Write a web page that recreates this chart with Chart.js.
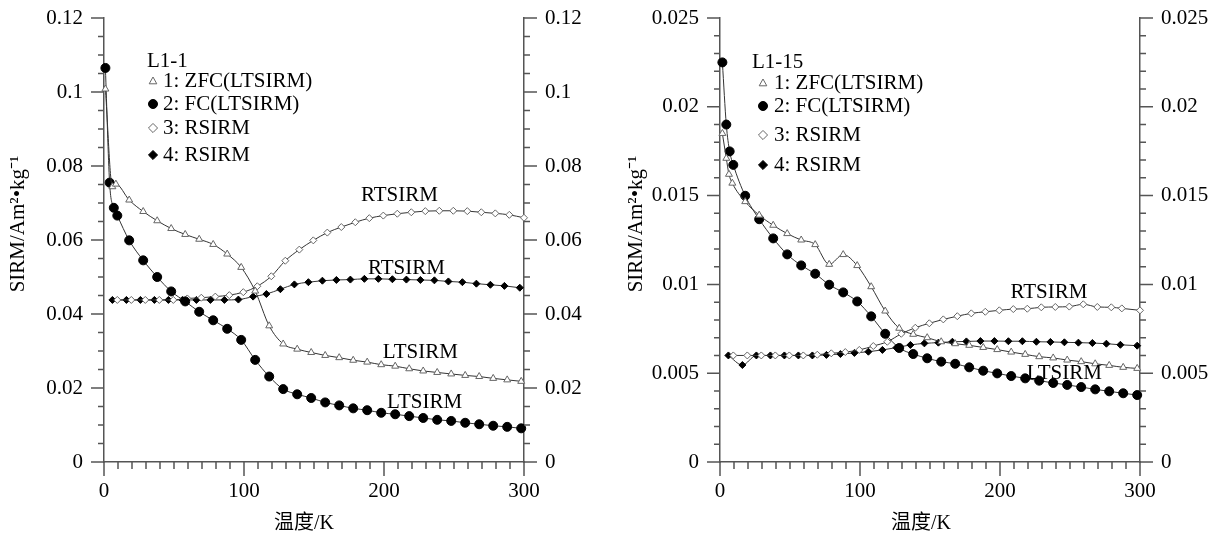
<!DOCTYPE html>
<html>
<head>
<meta charset="utf-8">
<script src="https://cdn.jsdelivr.net/npm/chart.js@4.4.1/dist/chart.umd.min.js"></script>
<style>
  body { margin: 0; background: #fff; }
  #wrap { position: relative; width: 1218px; height: 539px; }
  canvas { position: absolute; top: 0; }
</style>
</head>
<body>
<div id="wrap">
  <canvas id="chartL" width="609" height="539" style="left:0;width:609px;height:539px"></canvas>
  <canvas id="chartR" width="609" height="539" style="left:609px;width:609px;height:539px"></canvas>
</div>
<script>
const seriesNames = ["1: ZFC(LTSIRM)", "2: FC(LTSIRM)", "3: RSIRM", "4: RSIRM"];

// sample L1-1
const l1ZfcT = [1, 6, 8.5, 18, 28, 38, 48, 58, 68, 78, 88, 98, 108, 118, 128, 138, 148, 158, 168, 178, 188, 198, 208, 218, 228, 238, 248, 258, 268, 278, 288, 298];
const l1ZfcV = [0.1008, 0.0744, 0.0751, 0.0708, 0.0677, 0.0652, 0.0631, 0.0615, 0.0602, 0.0588, 0.0562, 0.0526, 0.0462, 0.0368, 0.0319, 0.0305, 0.0296, 0.0288, 0.0282, 0.0275, 0.0270, 0.0263, 0.0259, 0.0252, 0.0246, 0.0242, 0.0238, 0.0234, 0.0231, 0.0226, 0.0222, 0.0218];
const l1FcT = [1, 4, 7, 9.5, 18, 28, 38, 48, 58, 68, 78, 88, 98, 108, 118, 128, 138, 148, 158, 168, 178, 188, 198, 208, 218, 228, 238, 248, 258, 268, 278, 288, 298];
const l1FcV = [0.1065, 0.0755, 0.0687, 0.0666, 0.0599, 0.0545, 0.0500, 0.0461, 0.0434, 0.0406, 0.0383, 0.0360, 0.0330, 0.0276, 0.0231, 0.0197, 0.0183, 0.0173, 0.0161, 0.0153, 0.0145, 0.0140, 0.0133, 0.0129, 0.0124, 0.0119, 0.0114, 0.0111, 0.0106, 0.0102, 0.0098, 0.0095, 0.0091];
const l1RtOpenT = [9.5, 19.5, 29.5, 39.5, 49.5, 59.5, 69.5, 79.5, 89.5, 99.5, 109.5, 119.5, 129.5, 139.5, 149.5, 159.5, 169.5, 179.5, 189.5, 199.5, 209.5, 219.5, 229.5, 239.5, 249.5, 259.5, 269.5, 279.5, 289.5, 300];
const l1RtOpenV = [0.0438, 0.0438, 0.0438, 0.0438, 0.0438, 0.0442, 0.0444, 0.0447, 0.0451, 0.0459, 0.0475, 0.0502, 0.0544, 0.0574, 0.0599, 0.0620, 0.0635, 0.0648, 0.0659, 0.0666, 0.0671, 0.0675, 0.0678, 0.0679, 0.0679, 0.0678, 0.0675, 0.0672, 0.0668, 0.0660];
const l1RtFillT = [6, 16, 26, 36, 46, 56, 66, 76, 86, 96, 106.5, 116, 126, 136, 146, 156, 166, 176, 186, 196, 206, 216, 226, 236, 246, 256, 266, 276, 286, 297];
const l1RtFillV = [0.0438, 0.0438, 0.0438, 0.0438, 0.0438, 0.0438, 0.0438, 0.0438, 0.0438, 0.0439, 0.0447, 0.0454, 0.0467, 0.0480, 0.0486, 0.0490, 0.0492, 0.0493, 0.0495, 0.0495, 0.0494, 0.0493, 0.0492, 0.0491, 0.0488, 0.0486, 0.0482, 0.0479, 0.0476, 0.0471];

// sample L1-15
const l15ZfcT = [1.7, 4.5, 6.4, 8.8, 18, 28, 38, 48, 58, 68, 78, 88, 98, 108, 118, 128, 138, 148, 158, 168, 178, 188, 198, 208, 218, 228, 238, 248, 258, 268, 278, 288, 298];
const l15ZfcV = [0.0185, 0.0171, 0.0162, 0.0157, 0.01466, 0.0139, 0.01333, 0.01286, 0.0125, 0.01224, 0.01113, 0.01168, 0.01106, 0.00987, 0.0085, 0.00753, 0.00719, 0.0070, 0.00677, 0.00666, 0.00657, 0.00645, 0.00633, 0.00619, 0.00606, 0.00593, 0.00586, 0.00574, 0.00565, 0.00553, 0.00544, 0.00533, 0.00527];
const l15FcT = [1.7, 4.5, 6.9, 9.5, 18, 28, 38, 48, 58, 68, 78, 88, 98, 108, 118, 128, 138, 148, 158, 168, 178, 188, 198, 208, 218, 228, 238, 248, 258, 268, 278, 288, 298];
const l15FcV = [0.0225, 0.0190, 0.01749, 0.01673, 0.01499, 0.01367, 0.01259, 0.01169, 0.01107, 0.0106, 0.00998, 0.00955, 0.00904, 0.0082, 0.00722, 0.00642, 0.00608, 0.00584, 0.00565, 0.00553, 0.00533, 0.00514, 0.00499, 0.00484, 0.00471, 0.00458, 0.00445, 0.00434, 0.00422, 0.00409, 0.00398, 0.00387, 0.00377];
const l15RtOpenT = [9.5, 19.5, 29.5, 39.5, 49.5, 59.5, 69.5, 79.5, 89.5, 99.5, 109.5, 119.5, 129.5, 139.5, 149.5, 159.5, 169.5, 179.5, 189.5, 199.5, 209.5, 219.5, 229.5, 239.5, 249.5, 259.5, 269.5, 279.5, 287, 300];
const l15RtOpenV = [0.0060, 0.0060, 0.0060, 0.0060, 0.0060, 0.0060, 0.00604, 0.00612, 0.00619, 0.00631, 0.00653, 0.00677, 0.00722, 0.00756, 0.00781, 0.00803, 0.00821, 0.00837, 0.00846, 0.00854, 0.00861, 0.00863, 0.00871, 0.00873, 0.00875, 0.00888, 0.00873, 0.00871, 0.00865, 0.00854];
const l15RtFillT = [6, 16, 26, 36, 46, 56, 66, 76, 86, 96, 106, 116, 126, 136, 146, 156, 166, 176, 186, 196, 206, 216, 226, 236, 246, 256, 266, 276, 286, 298];
const l15RtFillV = [0.0060, 0.00546, 0.0060, 0.0060, 0.0060, 0.0060, 0.0060, 0.00603, 0.00608, 0.00614, 0.00621, 0.00631, 0.00644, 0.00659, 0.00668, 0.00672, 0.00677, 0.00679, 0.00681, 0.00681, 0.0068, 0.0068, 0.00677, 0.00676, 0.00674, 0.00672, 0.0067, 0.00666, 0.0066, 0.00655];

const serif = "'Liberation Serif', 'Times New Roman', serif";
const axisColor = "#555";
const tickSize = 21;

const pts = (t, v) => t.map((x, i) => ({ x: x, y: v[i] }));

// the four curve styles, in legend order
const markStyles = [
  { pointStyle: "triangle", pointRadius: 4, pointBackgroundColor: "#fff", pointBorderColor: "#666" },
  { pointStyle: "circle", pointRadius: 4.5, pointBackgroundColor: "#000", pointBorderColor: "#000" },
  { pointStyle: "rectRot", pointRadius: 3.5, pointBackgroundColor: "#fff", pointBorderColor: "#666" },
  { pointStyle: "rectRot", pointRadius: 3.5, pointBackgroundColor: "#000", pointBorderColor: "#000" },
];

const makeSets = (series) =>
  series.map((d, i) => ({
    label: seriesNames[i],
    data: d,
    borderColor: "#333",
    borderWidth: 1,
    pointBorderWidth: 1,
    cubicInterpolationMode: "monotone",
    clip: false,
    ...markStyles[i],
  }));

const fmt = (v) => String(Math.round(v * 100000) / 100000);

// fixed box width, and no extra room above the top tick label
const fixSide = (w) => (s) => {
  s.width = w;
  s.paddingTop = 0;
  s.paddingBottom = 0;
};

//Tick marks: long outward majors, short minors
const axisTicks = {
  id: "axisTicks",
  afterDraw(chart, args, opts) {
    const ctx = chart.ctx;
    const a = chart.chartArea;
    const xs = chart.scales.x;
    ctx.save();
    ctx.strokeStyle = axisColor;
    ctx.lineWidth = 1.5;
    ctx.beginPath();
    let n = Math.round((xs.max - xs.min) / opts.xMinor);
    for (let i = 0; i <= n; i++) {
      const px = xs.getPixelForValue(xs.min + i * opts.xMinor);
      const len = i % opts.xEvery === 0 ? 14 : 7;
      ctx.moveTo(px, a.bottom);
      ctx.lineTo(px, a.bottom + len);
    }
    ["y", "y2"].forEach((id) => {
      const s = chart.scales[id];
      const dir = id === "y" ? -1 : 1;
      const x0 = id === "y" ? a.left : a.right;
      n = Math.round((s.max - s.min) / opts.yMinor);
      for (let i = 0; i <= n; i++) {
        const py = s.getPixelForValue(s.min + i * opts.yMinor);
        const len = i % opts.yEvery === 0 ? 13 : 6;
        ctx.moveTo(x0, py);
        ctx.lineTo(x0 + dir * len, py);
      }
    });
    ctx.stroke();
    ctx.restore();
  },
};

//Axis titles, placed by hand
const axisTitles = {
  id: "axisTitles",
  afterDraw(chart, args, opts) {
    const ctx = chart.ctx;
    ctx.save();
    ctx.fillStyle = "#000";
    ctx.textAlign = "center";
    ctx.textBaseline = "middle";
    ctx.font = "20px " + serif + ", 'Noto Sans CJK SC'";
    ctx.fillText("温度/K", opts.xAt[0], opts.xAt[1]);
    ctx.translate(opts.yAt[0], opts.yAt[1]);
    ctx.rotate(-Math.PI / 2);
    ctx.font = "21px " + serif;
    ctx.fillText("SIRM/Am²•kg⁻¹", 0, 0);
    ctx.restore();
  },
};

//Curve names written next to the curves
const curveNotes = {
  id: "curveNotes",
  afterDraw(chart, args, opts) {
    const ctx = chart.ctx;
    ctx.save();
    ctx.font = "21px " + serif;
    ctx.fillStyle = "#000";
    ctx.textAlign = "center";
    ctx.textBaseline = "middle";
    opts.items.forEach((it) => {
      ctx.fillText(it.text, chart.scales.x.getPixelForValue(it.x), chart.scales.y.getPixelForValue(it.y));
    });
    ctx.restore();
  },
};

const drawMark = (ctx, style, x, y, r, fill, stroke) => {
  ctx.beginPath();
  if (style === "circle") {
    ctx.arc(x, y, r, 0, Math.PI * 2);
  } else if (style === "triangle") {
    ctx.moveTo(x, y - r);
    ctx.lineTo(x + r * 0.95, y + r * 0.7);
    ctx.lineTo(x - r * 0.95, y + r * 0.7);
    ctx.closePath();
  } else {
    ctx.moveTo(x, y - r * 1.3);
    ctx.lineTo(x + r * 1.3, y);
    ctx.lineTo(x, y + r * 1.3);
    ctx.lineTo(x - r * 1.3, y);
    ctx.closePath();
  }
  ctx.fillStyle = fill;
  ctx.fill();
  ctx.strokeStyle = stroke;
  ctx.lineWidth = 1;
  ctx.stroke();
};

//Sample name and the key of symbols
const keyBox = {
  id: "keyBox",
  afterDraw(chart, args, opts) {
    const ctx = chart.ctx;
    const a = chart.chartArea;
    ctx.save();
    ctx.font = "21px " + serif;
    ctx.textBaseline = "middle";
    ctx.fillStyle = "#000";
    ctx.fillText(opts.title, a.left + opts.titleX, a.top + opts.titleY);
    chart.data.datasets.forEach((ds, i) => {
      const cy = a.top + opts.rowY[i];
      drawMark(ctx, ds.pointStyle, a.left + opts.markX, cy, ds.pointRadius, ds.pointBackgroundColor, ds.pointBorderColor);
      ctx.fillStyle = "#000";
      ctx.fillText(ds.label, a.left + opts.textX, cy);
    });
    ctx.restore();
  },
};

const makeChart = (el, series, cfg) =>
  new Chart(document.getElementById(el), {
    type: "line",
    data: { datasets: makeSets(series) },
    plugins: [axisTicks, axisTitles, curveNotes, keyBox],
    options: {
      responsive: false,
      devicePixelRatio: 1,
      animation: false,
      layout: { padding: { top: 18, left: 0, right: 0, bottom: 0 } },
      plugins: {
        legend: { display: false },
        tooltip: { enabled: false },
        axisTicks: { xMinor: 10, xEvery: 10, yMinor: cfg.yMinor, yEvery: cfg.yEvery },
        axisTitles: { xAt: cfg.xTitleAt, yAt: cfg.yTitleAt },
        curveNotes: { items: cfg.notes },
        keyBox: cfg.key,
      },
      scales: {
        x: {
          type: "linear",
          min: 0,
          max: 300,
          grid: { display: false, drawTicks: false },
          border: { display: true, color: axisColor, width: 1.5 },
          ticks: { stepSize: 100, padding: 17, color: "#000", font: { family: serif, size: tickSize } },
          afterFit: (s) => { s.height = 77; },
        },
        y: {
          position: "left",
          min: 0,
          max: cfg.yMax,
          grid: { display: false, drawTicks: false },
          border: { display: true, color: axisColor, width: 1.5 },
          ticks: { stepSize: cfg.yStep, padding: 21, color: "#000", font: { family: serif, size: tickSize }, callback: fmt },
          afterFit: fixSide(cfg.leftW),
        },
        y2: {
          position: "right",
          min: 0,
          max: cfg.yMax,
          grid: { display: false, drawTicks: false },
          border: { display: true, color: axisColor, width: 1.5 },
          ticks: { stepSize: cfg.yStep, padding: 21, color: "#000", font: { family: serif, size: tickSize }, callback: fmt },
          afterFit: fixSide(cfg.rightW),
        },
      },
    },
  });

makeChart(
  "chartL",
  [pts(l1ZfcT, l1ZfcV), pts(l1FcT, l1FcV), pts(l1RtOpenT, l1RtOpenV), pts(l1RtFillT, l1RtFillV)],
  {
    yMax: 0.12, yStep: 0.02, yMinor: 0.005, yEvery: 4,
    leftW: 104, rightW: 85,
    xTitleAt: [304, 524], yTitleAt: [18, 224],
    notes: [
      { text: "RTSIRM", x: 211, y: 0.0719 },
      { text: "RTSIRM", x: 216, y: 0.0524 },
      { text: "LTSIRM", x: 226, y: 0.0295 },
      { text: "LTSIRM", x: 229, y: 0.0162 },
    ],
    key: { title: "L1-1", titleX: 43, titleY: 43, markX: 49, textX: 59, rowY: [63, 86, 110, 137] },
  }
);

makeChart(
  "chartR",
  [pts(l15ZfcT, l15ZfcV), pts(l15FcT, l15FcV), pts(l15RtOpenT, l15RtOpenV), pts(l15RtFillT, l15RtFillV)],
  {
    yMax: 0.025, yStep: 0.005, yMinor: 0.001, yEvery: 5,
    leftW: 111, rightW: 78,
    xTitleAt: [312, 524], yTitleAt: [27, 224],
    notes: [
      { text: "RTSIRM", x: 235, y: 0.00952 },
      { text: "LTSIRM", x: 246, y: 0.00501 },
    ],
    key: { title: "L1-15", titleX: 32, titleY: 44, markX: 43, textX: 54, rowY: [65, 88, 117, 147] },
  }
);
</script>
</body>
</html>
